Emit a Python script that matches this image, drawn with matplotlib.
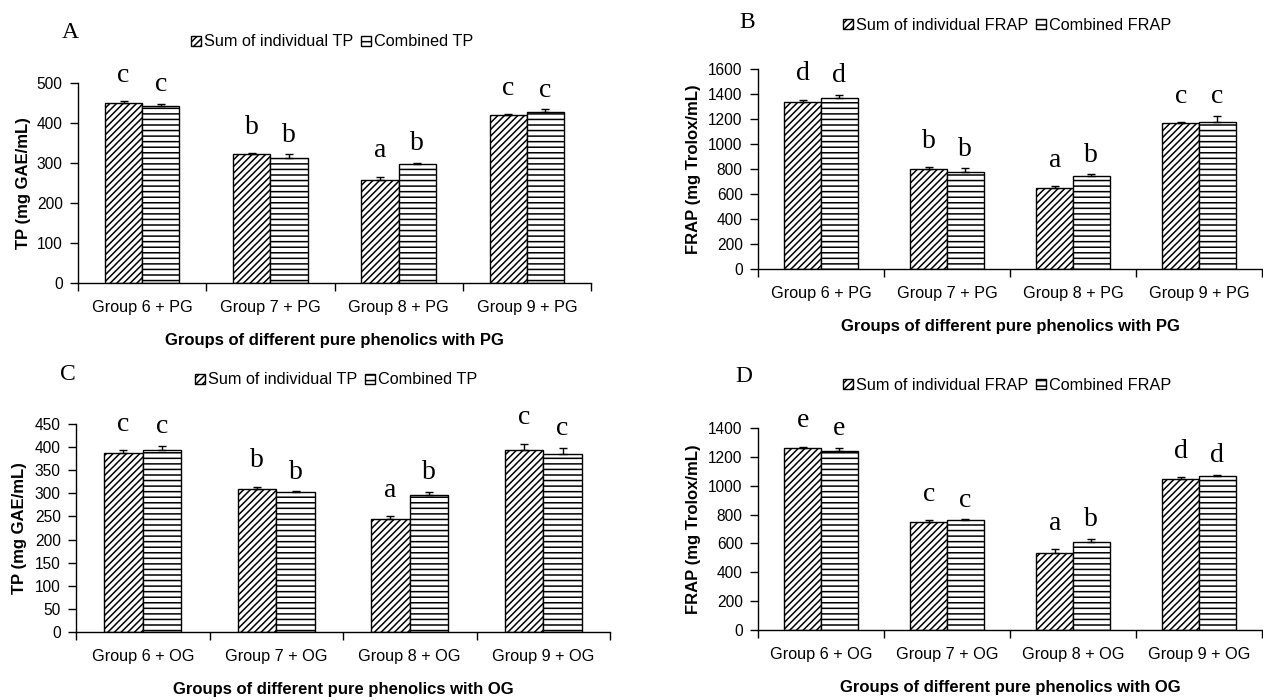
import matplotlib
matplotlib.use('Agg')
import matplotlib.pyplot as plt
import numpy as np

plt.rcParams['font.family'] = ['Liberation Sans', 'DejaVu Sans']
plt.rcParams['hatch.linewidth'] = 1.1
plt.rcParams['hatch.color'] = 'black'

groups_pg = ['Group 6 + PG', 'Group 7 + PG', 'Group 8 + PG', 'Group 9 + PG']
groups_og = ['Group 6 + OG', 'Group 7 + OG', 'Group 8 + OG', 'Group 9 + OG']

# A - TP with PG
tp_pg_sum = [449, 322, 258, 419]
tp_pg_sum_err = [6, 3, 8, 3]
tp_pg_comb = [442, 312, 298, 428]
tp_pg_comb_err = [6, 10, 3, 7]
tp_pg_let_sum = ['c', 'b', 'a', 'c']
tp_pg_let_comb = ['c', 'b', 'b', 'c']

# B - FRAP with PG
frap_pg_sum = [1335, 800, 650, 1165]
frap_pg_sum_err = [19, 13, 13, 11]
frap_pg_comb = [1365, 778, 746, 1180]
frap_pg_comb_err = [29, 27, 13, 48]
frap_pg_let_sum = ['d', 'b', 'a', 'c']
frap_pg_let_comb = ['d', 'b', 'b', 'c']

# C - TP with OG
tp_og_sum = [387, 309, 245, 394]
tp_og_sum_err = [6, 5, 5, 13]
tp_og_comb = [394, 303, 297, 385]
tp_og_comb_err = [9, 2, 6, 14]
tp_og_let_sum = ['c', 'b', 'a', 'c']
tp_og_let_comb = ['c', 'b', 'b', 'c']

# D - FRAP with OG
frap_og_sum = [1261, 750, 537, 1050]
frap_og_sum_err = [9, 9, 21, 9]
frap_og_comb = [1244, 761, 611, 1067]
frap_og_comb_err = [18, 7, 21, 9]
frap_og_let_sum = ['e', 'c', 'a', 'd']
frap_og_let_comb = ['e', 'c', 'b', 'd']

W, H = 1263, 700
fig = plt.figure(figsize=(W / 100, H / 100), dpi=100)


def px_axes(left, top, right, bottom):
    return fig.add_axes([left / W, 1 - bottom / H, (right - left) / W, (bottom - top) / H])


def draw_panel(ax, cats, s, se, c, ce, ls, lc, ymax, ystep, ylabel, xlabel,
               names, panel, panel_xy, leg_xy, ylab_dist):
    x = np.arange(len(cats))
    w = 0.29
    zeros = np.zeros(len(cats))
    ax.bar(x - w / 2, s, w, color='white', edgecolor='black', linewidth=1,
           hatch='/////', label=names[0], zorder=2)
    ax.bar(x + w / 2, c, w, color='white', edgecolor='black', linewidth=1,
           hatch='---', label=names[1], zorder=2)
    ax.errorbar(x - w / 2, s, yerr=[zeros, se], fmt='none', ecolor='black',
                elinewidth=1, capsize=3, capthick=1, zorder=3)
    ax.errorbar(x + w / 2, c, yerr=[zeros, ce], fmt='none', ecolor='black',
                elinewidth=1, capsize=3, capthick=1, zorder=3)
    for i in range(len(cats)):
        ax.annotate(ls[i], (x[i] - w / 2, s[i] + se[i]), xytext=(0, 14),
                    textcoords='offset points', ha='center', va='baseline',
                    fontsize=20, family='Liberation Serif')
        ax.annotate(lc[i], (x[i] + w / 2, c[i] + ce[i]), xytext=(0, 9),
                    textcoords='offset points', ha='center', va='baseline',
                    fontsize=20, family='Liberation Serif')

    ax.set_xlim(-0.5, len(cats) - 0.5)
    ax.set_ylim(0, ymax)
    ax.set_yticks(np.arange(0, ymax + 1, ystep))
    ax.set_xticks(np.arange(-0.5, len(cats), 1.0))
    ax.set_xticklabels([])
    ax.set_xticks(x, minor=True)
    ax.set_xticklabels(cats, minor=True)
    ax.tick_params(axis='x', which='major', length=6, width=1, direction='out')
    ax.tick_params(axis='x', which='minor', length=0, pad=12, labelsize=11.7)
    ax.tick_params(axis='y', length=6, width=1, direction='out', pad=5, labelsize=11.2)
    for sp in ['top', 'right']:
        ax.spines[sp].set_visible(False)
    for sp in ['left', 'bottom']:
        ax.spines[sp].set_linewidth(1)
    ax.set_xlabel(xlabel, fontsize=12, fontweight='bold', labelpad=13)
    ax.set_ylabel(ylabel, fontsize=12, fontweight='bold')
    bb = ax.get_position()
    ax.yaxis.set_label_coords(-(ylab_dist - 9) / (bb.width * W), 0.5)

    fig.text(panel_xy[0] / W, 1 - panel_xy[1] / H, panel, fontsize=17,
             family='Liberation Serif', ha='center', va='center')
    ax.legend(loc='center left', bbox_to_anchor=(leg_xy[0] / W, 1 - leg_xy[1] / H),
              bbox_transform=fig.transFigure, frameon=False, ncol=2,
              borderaxespad=0, borderpad=0, handlelength=0.6, handleheight=0.6,
              handletextpad=0.2, columnspacing=0.5, fontsize=11.7)


axA = px_axes(78, 83, 591, 283)
draw_panel(axA, groups_pg, tp_pg_sum, tp_pg_sum_err, tp_pg_comb, tp_pg_comb_err,
           tp_pg_let_sum, tp_pg_let_comb, 500, 100, 'TP (mg GAE/mL)',
           'Groups of different pure phenolics with PG',
           ['Sum of individual TP', 'Combined TP'], 'A', (70, 32), (191, 42), 56)

axB = px_axes(758, 69, 1262, 269)
draw_panel(axB, groups_pg, frap_pg_sum, frap_pg_sum_err, frap_pg_comb, frap_pg_comb_err,
           frap_pg_let_sum, frap_pg_let_comb, 1600, 200, 'FRAP (mg Trolox/mL)',
           'Groups of different pure phenolics with PG',
           ['Sum of individual FRAP', 'Combined FRAP'], 'B', (747, 22), (843, 25), 66)

axC = px_axes(76, 424, 610, 632)
draw_panel(axC, groups_og, tp_og_sum, tp_og_sum_err, tp_og_comb, tp_og_comb_err,
           tp_og_let_sum, tp_og_let_comb, 450, 50, 'TP (mg GAE/mL)',
           'Groups of different pure phenolics with OG',
           ['Sum of individual TP', 'Combined TP'], 'C', (68, 374), (195, 380), 58)

axD = px_axes(758, 428, 1262, 630)
draw_panel(axD, groups_og, frap_og_sum, frap_og_sum_err, frap_og_comb, frap_og_comb_err,
           frap_og_let_sum, frap_og_let_comb, 1400, 200, 'FRAP (mg Trolox/mL)',
           'Groups of different pure phenolics with OG',
           ['Sum of individual FRAP', 'Combined FRAP'], 'D', (744, 376), (843, 385), 66)

fig.savefig('out.png', dpi=100)
